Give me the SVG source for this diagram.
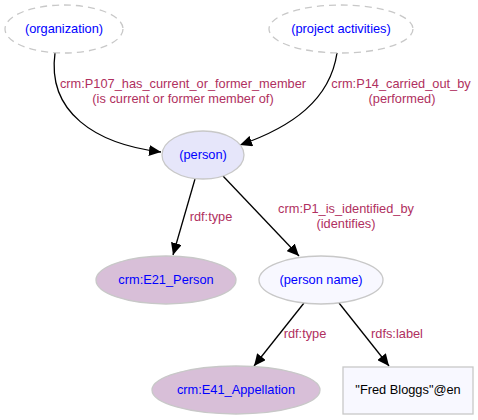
<svg xmlns="http://www.w3.org/2000/svg" width="478" height="420" viewBox="0 0 478 420">
<defs>
<marker id="arr" markerWidth="13" markerHeight="11" refX="12" refY="5.5" orient="auto" markerUnits="userSpaceOnUse">
<path d="M0,0 L12,5.5 L0,11 z" fill="#000"/>
</marker>
<style>
text{font-family:"Liberation Sans",Arial,sans-serif;font-size:12.8px;text-anchor:middle}
.n{fill:#0000ff}
.l{fill:#b03060}
.dash{fill:#fff;stroke:#c8c8c8;stroke-width:1.3;stroke-dasharray:7,5}
.e{stroke:#000;stroke-width:1.3;fill:none;marker-end:url(#arr)}
.solid{stroke:#c8c8c8;stroke-width:1.3}
</style>
</defs>
<rect width="478" height="420" fill="#fff"/>
<g id="edges">
<path class="e" d="M55,53 C47,112 95,144 161,152"/>
<path class="e" d="M337,53 C330,100 292,127 240,145"/>
<path class="e" d="M195,179 L173,255"/>
<path class="e" d="M223,176 L299,256"/>
<path class="e" d="M304,303 L254,366"/>
<path class="e" d="M339,303 L389,366"/>
<text class="l" x="183" y="88">crm:P107_has_current_or_former_member</text>
<text class="l" x="183" y="103">(is current or former member of)</text>
<text class="l" x="401" y="88">crm:P14_carried_out_by</text>
<text class="l" x="402" y="103">(performed)</text>
<text class="l" x="211" y="221">rdf:type</text>
<text class="l" x="346" y="213">crm:P1_is_identified_by</text>
<text class="l" x="346" y="228">(identifies)</text>
<text class="l" x="305" y="338">rdf:type</text>
<text class="l" x="397" y="338">rdfs:label</text>
</g>
<g id="organization">
<ellipse class="dash" cx="64" cy="29" rx="59" ry="24"/>
<text class="n" x="64" y="33">(organization)</text>
</g>
<g id="project_activities">
<ellipse class="dash" cx="341" cy="29" rx="72" ry="24"/>
<text class="n" x="341" y="33">(project activities)</text>
</g>
<g id="person">
<ellipse class="solid" fill="#e6e6fa" cx="203" cy="155" rx="41" ry="24"/>
<text class="n" x="203" y="159">(person)</text>
</g>
<g id="E21_Person">
<ellipse class="solid" fill="#d8bfd8" cx="166" cy="280" rx="70" ry="24"/>
<text class="n" x="166" y="284">crm:E21_Person</text>
</g>
<g id="person_name">
<ellipse class="solid" fill="#f8f8ff" cx="321" cy="280" rx="62" ry="24"/>
<text class="n" x="321" y="284">(person name)</text>
</g>
<g id="E41_Appellation">
<ellipse class="solid" fill="#d8bfd8" cx="236" cy="390" rx="84" ry="24"/>
<text class="n" x="236" y="394">crm:E41_Appellation</text>
</g>
<g id="fred_bloggs">
<rect class="solid" fill="#f8f8ff" x="343" y="367" width="130" height="47"/>
<text x="408" y="394" fill="#000">"Fred Bloggs"@en</text>
</g>
</svg>
